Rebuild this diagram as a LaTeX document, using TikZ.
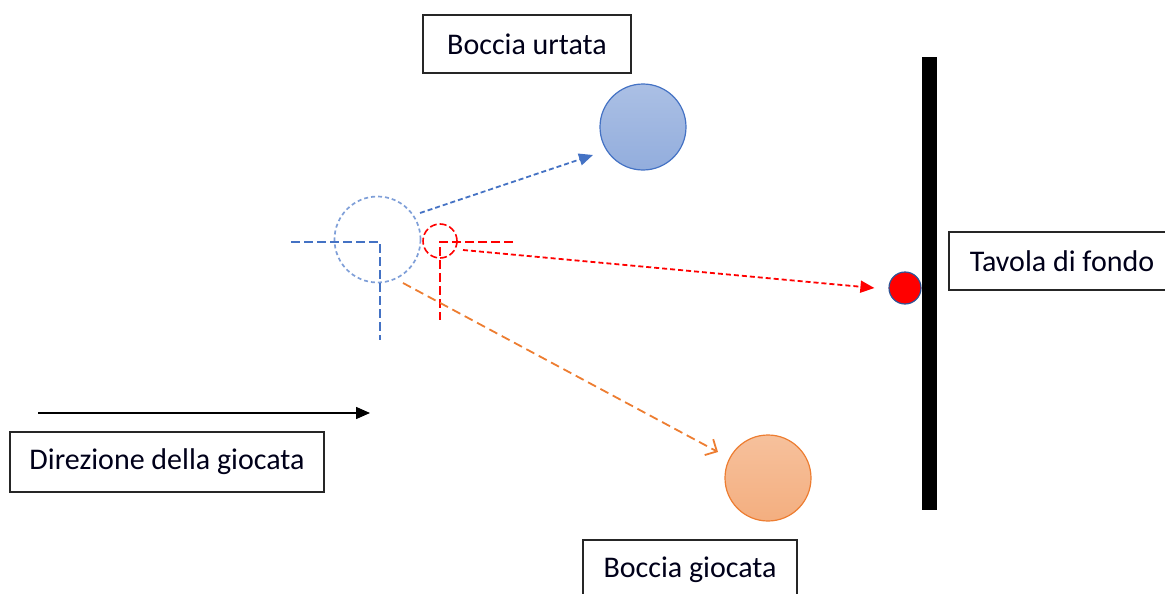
\documentclass[tikz,border=0pt]{standalone}
\usepackage{fontspec}
\setmainfont{Carlito}
\usetikzlibrary{arrows.meta, positioning}
\definecolor{urtblue}{HTML}{4472C4}
\definecolor{ghostblue}{HTML}{7F9FD8}
\definecolor{gioorange}{HTML}{ED7D31}
\definecolor{dotedge}{HTML}{2F5597}

\begin{document}
\begin{tikzpicture}[
	x = 1pt, y = -1pt,
	box/.style = {draw=black!85, line width=1.3pt, font=\fontsize{30}{35}\selectfont, text=black!90!blue, minimum height=58pt},
	ball/.style = {circle, minimum size=86pt, inner sep=0pt, line width=1.2pt},
	ghost/.style = {dash pattern=on 4pt off 3pt, line width=1.7pt},
	cross/.style = {dash pattern=on 9pt off 4pt, line width=1.6pt},
	track/.style = {dash pattern=on 5pt off 3pt, line width=1.8pt}
]
\useasboundingbox (0,0) rectangle (1165,594);

% labels
\node[box, minimum width=208pt] (urtata label) at (527,44) {Boccia urtata};
\node[box, minimum width=314pt, minimum height=60pt] (direzione label) at (167,462) {Direzione della giocata};
\node[box, minimum width=214pt, minimum height=60pt] (giocata label) at (690,570) {Boccia giocata};
\node[box, minimum width=226pt] (fondo label) at (1062,261) {Tavola di fondo};

% balls
\node[ball, draw=urtblue, top color=urtblue!45, bottom color=urtblue!58] (urtata) at (643,127) {};
\node[ball, draw=gioorange, top color=gioorange!48, bottom color=gioorange!62] (giocata) at (768,478) {};
\node[ball, draw=ghostblue, ghost] (contatto) at (377.5,239.5) {};
\node[circle, minimum size=34pt, inner sep=0pt, draw=red, line width=1.6pt, dash pattern=on 7pt off 3pt] (pallino ghost) at (440,241) {};

% board and jack
\node[fill=black, minimum width=15pt, minimum height=453pt, inner sep=0pt] (fondo) at (929.5,283.5) {};
\node[circle, fill=red, draw=dotedge, line width=1.2pt, minimum size=32pt, inner sep=0pt] (pallino) at (905,288) {};

% crosshairs
\draw[cross, urtblue] (291,242) -| (380,340);
\draw[cross, red] (513,242) -| (440,320);

% tracks
\coordinate (urtata start) at (420,213);
\coordinate (urtata tip) at (593,155);
\coordinate (pallino start) at (463,250);
\coordinate (giocata start) at (403,283);
\coordinate (giocata tip) at (718,452);
\draw[track, urtblue, -{Triangle[length=14pt, width=12pt]}] (urtata start) -- (urtata tip);
\draw[track, red, -{Triangle[length=14pt, width=12pt]}] (pallino start) -- ([xshift=-14pt]pallino.west);
\draw[track, gioorange, dash pattern=on 9pt off 5pt, -{Straight Barb[length=9pt, width=18pt]}] (giocata start) -- (giocata tip);

% direction of play
\coordinate (gioco start) at (38,413);
\coordinate (gioco end) at (370,413);
\draw[line width=1.5pt, -{Triangle[length=14pt, width=12pt]}] (gioco start) -- (gioco end);

\end{tikzpicture}
\end{document}
